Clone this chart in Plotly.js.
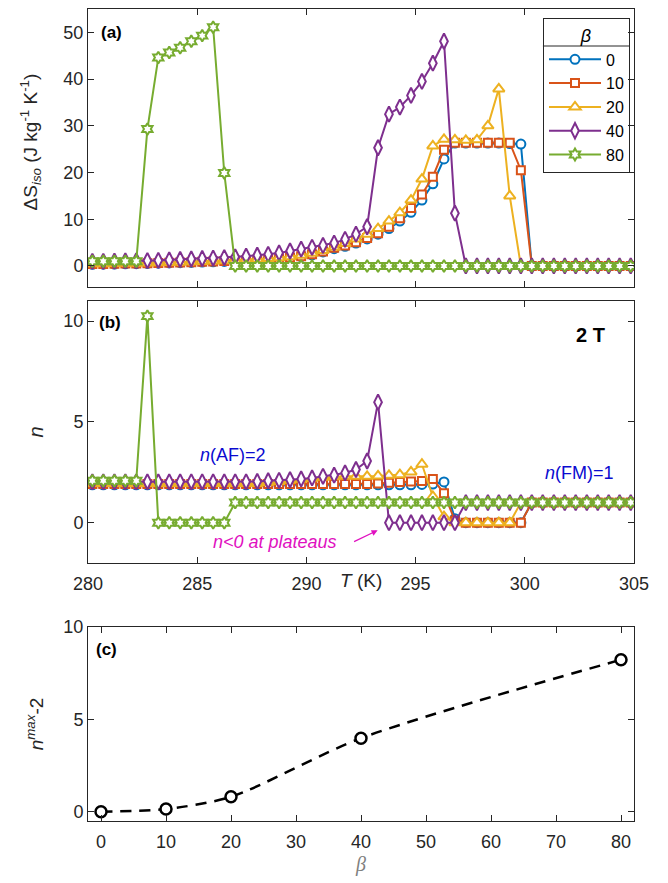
<!DOCTYPE html>
<html><head><meta charset="utf-8">
<script src="https://cdn.plot.ly/plotly-3.0.1.min.js"></script>
<style>html,body{margin:0;padding:0;background:#fff}#chart{width:668px;height:883px}</style>
</head><body><div id="chart"></div>
<script>
// Temperature grid (K)
const T = [280.2,280.7,281.21,281.71,282.21,282.72,283.22,283.72,284.22,284.73,
  285.23,285.73,286.24,286.74,287.24,287.75,288.25,288.75,289.25,289.76,
  290.26,290.76,291.27,291.77,292.27,292.78,293.28,293.78,294.28,294.79,
  295.29,295.79,296.3,296.8,297.3,297.81,298.31,298.81,299.31,299.82,
  300.32,300.82,301.33,301.83,302.33,302.84,303.34,303.84,304.34,304.85];

const betaNames = ['0','10','20','40','80'];
const seriesColors = ['#0072BD','#D95319','#EDB120','#7E2F8E','#77AC30'];
const seriesSymbols = ['circle','square','triangle-up','diamond-tall','hexagram'];

// (a) isothermal entropy change, J kg^-1 K^-1
const dS_beta0 = [0.35,0.38,0.42,0.46,0.5,0.55,0.6,0.65,0.7,0.76,0.83,0.9,0.98,1.06,1.15,1.25,1.37,1.5,
  1.7,2.0,2.4,3.0,3.7,4.2,4.9,5.8,6.8,8.0,9.6,11.5,14.1,17.6,22.9,
  26.3,26.3,26.3,26.3,26.3,26.2,26.1,0,0,0,0,0,0,0,0,0,0];
const dS_beta10 = [0.4,0.43,0.47,0.51,0.55,0.6,0.65,0.7,0.76,0.82,0.89,0.96,1.04,1.13,1.23,1.34,1.47,1.62,
  1.82,2.1,2.5,3.1,3.9,4.4,5.1,6.0,7.0,8.4,10.2,12.4,15.3,19.1,24.9,
  26.4,26.4,26.4,26.4,26.4,26.4,20.5,0,0,0,0,0,0,0,0,0,0];
const dS_beta20 = [0.45,0.48,0.52,0.56,0.6,0.65,0.7,0.76,0.82,0.89,0.96,1.04,1.13,1.23,1.34,1.46,1.6,1.78,
  2.0,2.3,2.7,3.3,4.0,4.8,5.8,6.8,8.0,9.6,11.4,14.1,18.6,25.7,27.1,
  27.0,26.9,27.0,30.0,37.9,15.0,0,0,0,0,0,0,0,0,0,0,0];
const dS_beta40 = [1.0,1.0,1.05,1.1,1.1,1.15,1.2,1.3,1.4,1.5,1.6,1.7,1.8,1.95,2.1,2.3,2.5,2.8,3.2,3.6,4.0,4.4,
  4.9,5.7,6.8,8.4,25.3,32.5,34.0,36.5,39.5,43.4,48.1,11.3,
  0,0,0,0,0,0,0,0,0,0,0,0,0,0,0,0];
const dS_beta80 = [1.0,1.0,1.0,1.0,1.0,29.3,44.6,45.7,46.7,48.1,49.3,51.1,19.9,
  0,0,0,0,0,0,0,0,0,0,0,0,0,0,0,0,0,0,0,0,0,0,0,0,0,0,0,0,0,0,0,0,0,0,0,0,0];

// (b) field exponent n at 2 T
const n_beta0 = [1.88,1.88,1.88,1.88,1.88,1.88,1.88,1.88,1.88,1.88,1.88,1.88,1.88,1.88,1.88,1.88,1.88,1.88,1.88,1.88,
  1.88,1.88,1.88,1.88,1.88,1.88,1.88,1.88,1.88,1.88,1.9,1.92,2.02,0.2,
  0,0,0,0,0,0,1,1,1,1,1,1,1,1,1,1];
const n_beta10 = [1.92,1.92,1.92,1.92,1.92,1.92,1.92,1.92,1.92,1.92,1.92,1.92,1.92,1.92,1.92,1.92,1.92,1.92,1.92,1.92,
  1.92,1.92,1.92,1.92,1.92,1.92,1.95,1.98,2.02,2.04,2.07,2.17,1.46,0.1,
  0,0,0,0,0,0,1,1,1,1,1,1,1,1,1,1];
const n_beta20 = [1.95,1.95,1.95,1.95,1.95,1.95,1.95,1.95,1.95,1.95,1.95,1.95,1.95,1.95,1.95,1.95,
  2.0,2.05,2.1,2.15,2.2,2.25,2.28,2.3,2.3,2.3,2.32,2.35,2.38,2.52,2.9,1.3,0.3,
  0,0,0,0,0,0,1,1,1,1,1,1,1,1,1,1,1];
const n_beta40 = [2.03,2.03,2.03,2.03,2.03,2.03,2.03,2.03,2.03,2.03,2.03,2.03,2.03,2.03,2.03,
  2.05,2.08,2.1,2.13,2.17,2.22,2.3,2.36,2.47,2.64,3.06,5.98,
  0,0,0,0,0,0,0,1,1,1,1,1,1,1,1,1,1,1,1,1,1,1,1];
const n_beta80 = [2.08,2.08,2.08,2.08,2.08,10.25,0,0,0,0,0,0,0,
  1,1,1,1,1,1,1,1,1,1,1,1,1,1,1,1,1,1,1,1,1,1,1,1,1,1,1,1,1,1,1,1,1,1,1,1,1];

// (c) n^max - 2 versus beta
const betaC = [0,10,20,40,80];
const nmaxMinus2 = [0,0.15,0.81,3.98,8.23];

(function(){
const dSAll = [dS_beta0,dS_beta10,dS_beta20,dS_beta40,dS_beta80];
const nAll = [n_beta0,n_beta10,n_beta20,n_beta40,n_beta80];
const mSizes = [9,8,10,11,9];

const traces = [];
for (let k=0;k<5;k++){
  const mk = {symbol: seriesSymbols[k], size: mSizes[k], color:'#ffffff',
              line:{color: seriesColors[k], width:2}};
  traces.push({x:T, y:dSAll[k], xaxis:'x', yaxis:'y', type:'scatter', mode:'lines+markers',
    name: betaNames[k], legendgroup:'g'+k, line:{color:seriesColors[k], width:2}, marker:mk});
}
for (let k=0;k<5;k++){
  const mk = {symbol: seriesSymbols[k], size: mSizes[k], color:'#ffffff',
              line:{color: seriesColors[k], width:2}};
  traces.push({x:T, y:nAll[k], xaxis:'x2', yaxis:'y2', type:'scatter', mode:'lines+markers',
    name: betaNames[k], legendgroup:'g'+k, showlegend:false, line:{color:seriesColors[k], width:2}, marker:mk});
}
traces.push({x:betaC, y:nmaxMinus2, xaxis:'x3', yaxis:'y3', type:'scatter', mode:'lines+markers',
  showlegend:false, line:{color:'#000', width:2.5, dash:'11px,8px', shape:'spline', smoothing:0.8},
  marker:{symbol:'circle', size:11, color:'#fff', line:{color:'#000', width:2.5}}});

const FONT = 'Arial, "Liberation Sans", sans-serif';
const axisBase = {showline:true, linecolor:'#262626', linewidth:1, mirror:'ticks', ticks:'inside',
  ticklen:6, tickwidth:1, tickcolor:'#262626', showgrid:false, zeroline:false,
  tickfont:{family:FONT, size:18, color:'#262626'}};

const PH = 812;
function py(p){ return (821 - p)/PH; }
function px(p){ return (p - 88.5)/545.5; }

const layout = {
  width:668, height:883, margin:{l:88, r:34, t:9, b:62},
  paper_bgcolor:'#fff', plot_bgcolor:'#fff',
  font:{family:FONT, color:'#262626'},
  xaxis: Object.assign({}, axisBase, {domain:[0,1], anchor:'y', range:[280,305], tickvals:[280,285,290,295,300,305], showticklabels:false}),
  yaxis: Object.assign({}, axisBase, {domain:[py(287), py(9)], anchor:'x', range:[-4.5,55], tickvals:[0,10,20,30,40,50]}),
  xaxis2: Object.assign({}, axisBase, {domain:[0,1], anchor:'y2', range:[280,305], tickvals:[280,285,290,295,300,305], ticklabelstandoff:4}),
  yaxis2: Object.assign({}, axisBase, {domain:[py(563), py(301)], anchor:'x2', range:[-2,11], tickvals:[0,5,10],
    title:{text:'<i>n</i>', font:{family:FONT, size:20, color:'#262626'}, standoff:14}}),
  xaxis3: Object.assign({}, axisBase, {domain:[0,1], anchor:'y3', range:[-2,82], tickvals:[0,10,20,30,40,50,60,70,80], ticklabelstandoff:4,
    title:{text:'<i>β</i>', font:{family:'"Liberation Serif", serif', size:20, color:'#808080'}, standoff:6}}),
  yaxis3: Object.assign({}, axisBase, {domain:[0, py(627)], anchor:'x3', range:[-0.5,10], tickvals:[0,5,10],
    title:{text:'<i>n</i><sup><i>max</i></sup>-2', font:{family:FONT, size:19, color:'#262626'}, standoff:14}}),
  legend:{x:px(630), xanchor:'right', y:py(18), yanchor:'top', bgcolor:'rgba(255,255,255,0)', bordercolor:'#262626', borderwidth:1,
    font:{family:FONT, size:16, color:'#000'}, itemwidth:52, tracegroupgap:0,
    title:{text:'<i>β</i>', side:'top center', font:{family:FONT, size:18, color:'#000'}}},
  shapes:[
    {type:'line', xref:'paper', yref:'paper', x0:px(543), x1:px(629), y0:py(46), y1:py(46), line:{color:'#262626', width:1}}
  ],
  annotations:[
    {xref:'paper', yref:'paper', x:px(31), y:py(142), xanchor:'center', yanchor:'middle', textangle:-90, showarrow:false,
      text:'ΔS<sub><i>iso</i></sub> (J kg<sup>-1</sup> K<sup>-1</sup>)', font:{family:FONT, size:19, color:'#262626'}},
    {xref:'paper', yref:'paper', x:px(99), y:py(32), xanchor:'left', yanchor:'middle', showarrow:false, text:'<b>(a)</b>', font:{family:FONT, size:17, color:'#000'}},
    {xref:'paper', yref:'paper', x:px(97), y:py(322), xanchor:'left', yanchor:'middle', showarrow:false, text:'<b>(b)</b>', font:{family:FONT, size:17, color:'#000'}},
    {xref:'paper', yref:'paper', x:px(94), y:py(649), xanchor:'left', yanchor:'middle', showarrow:false, text:'<b>(c)</b>', font:{family:FONT, size:17, color:'#000'}},
    {xref:'paper', yref:'paper', x:px(591), y:py(335), xanchor:'center', yanchor:'middle', showarrow:false, text:'<b>2 T</b>', font:{family:FONT, size:20, color:'#000'}},
    {xref:'x2', yref:'y2', x:286.66, y:3.35, showarrow:false, text:'<i>n</i>(AF)=2', font:{family:FONT, size:18, color:'#0a0ad0'}},
    {xref:'x2', yref:'y2', x:302.5, y:2.46, showarrow:false, text:'<i>n</i>(FM)=1', font:{family:FONT, size:18, color:'#0a0ad0'}},
    {xref:'x2', yref:'y2', x:288.55, y:-0.98, showarrow:false, text:'<i>n<0 at plateaus</i>', font:{family:FONT, size:18, color:'#e010c0'}},
    {xref:'x2', yref:'y2', x:293.26, y:-0.38, ax:-25, ay:12, showarrow:true, text:'', arrowhead:2, arrowsize:1, arrowwidth:1.2, arrowcolor:'#e010c0'},
    {xref:'paper', yref:'paper', x:0.5, y:py(581), xanchor:'center', yanchor:'middle', showarrow:false, text:'<i>T</i> (K)', font:{family:FONT, size:19, color:'#262626'}}
  ]
};

Plotly.newPlot('chart', traces, layout, {staticPlot:true, displayModeBar:false});
})();
</script></body></html>
